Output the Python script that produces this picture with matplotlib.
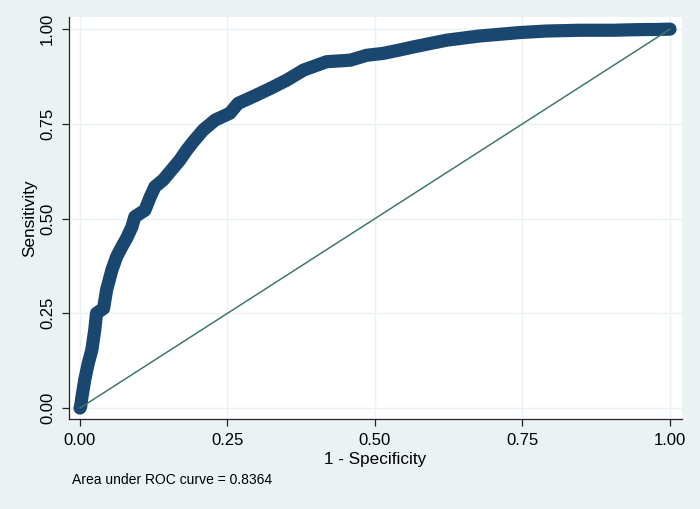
import numpy as np

import matplotlib as m
m.use('Agg')
import matplotlib.pyplot as plt


# ROC points (1 - specificity, sensitivity)
fpr = [0.0, 0.001, 0.003, 0.008, 0.014, 0.020, 0.025, 0.028, 0.040, 0.045,
       0.054, 0.062, 0.071, 0.079, 0.088, 0.093, 0.110, 0.119, 0.127, 0.141,
       0.155, 0.169, 0.181, 0.192, 0.209, 0.229, 0.254, 0.268, 0.299, 0.322,
       0.350, 0.379, 0.418, 0.458, 0.486, 0.514, 0.542, 0.565, 0.622, 0.678,
       0.746, 0.791, 0.847, 0.904, 0.928, 0.960, 0.977, 1.0]
tpr = [0.0, 0.003, 0.026, 0.074, 0.118, 0.153, 0.206, 0.250, 0.263, 0.311,
       0.364, 0.399, 0.426, 0.448, 0.478, 0.505, 0.522, 0.557, 0.584, 0.602,
       0.628, 0.654, 0.681, 0.703, 0.734, 0.760, 0.778, 0.804, 0.826, 0.843,
       0.865, 0.892, 0.914, 0.918, 0.931, 0.936, 0.945, 0.953, 0.971, 0.982,
       0.991, 0.995, 0.997, 0.997, 0.998, 0.999, 0.999, 1.0]

ref_x = [0.0, 1.0]
ref_y = [0.0, 1.0]

ticks = [0.0, 0.25, 0.5, 0.75, 1.0]
tick_labels = ['0.00', '0.25', '0.50', '0.75', '1.00']

auc_text = 'Area under ROC curve = 0.8364'


def main():
  plt.rc('font', family=['Liberation Sans', 'DejaVu Sans'], size=12)

  bg = '#eaf2f3'
  navy = '#1a476f'
  green = '#3f7a62'

  fig = plt.figure(figsize=(7.0, 5.09), dpi=100, facecolor=bg)
  axPlot = fig.add_axes([0.0986, 0.1768, 0.8754, 0.7898])
  axPlot.set_facecolor('white')

  # stata draws overlapping fat markers, a thick round line looks the same
  axPlot.plot(fpr, tpr, color=navy, linewidth=9.5, solid_capstyle='round',
              solid_joinstyle='round', zorder=3)
  axPlot.plot(ref_x, ref_y, color=green, linewidth=1.1, zorder=4)

  axPlot.set_xlim(-0.0186, 1.02)
  axPlot.set_ylim(-0.029, 1.032)
  axPlot.set_xticks(ticks)
  axPlot.set_xticklabels(tick_labels)
  axPlot.set_yticks(ticks)
  axPlot.set_yticklabels(tick_labels, rotation=90, va='center')

  axPlot.grid(True, color=bg, linewidth=1.0, zorder=0)
  axPlot.set_axisbelow(True)
  for s in ['top', 'right']:
    axPlot.spines[s].set_visible(False)
  for s in ['left', 'bottom']:
    axPlot.spines[s].set_color('#222222')
    axPlot.spines[s].set_linewidth(0.9)
  axPlot.tick_params(direction='out', length=5, width=0.9, color='#222222',
                     pad=5, labelsize=12)

  axPlot.set_xlabel('1 - Specificity', fontsize=12.3, labelpad=3)
  axPlot.set_ylabel('Sensitivity', fontsize=12.3, labelpad=2)

  fig.text(72 / 700.0, 1 - 480 / 509.0, auc_text, fontsize=10, va='center',
           ha='left')

  plt.savefig('out.png', dpi=100, facecolor=bg)


if __name__ == '__main__':
  main()
